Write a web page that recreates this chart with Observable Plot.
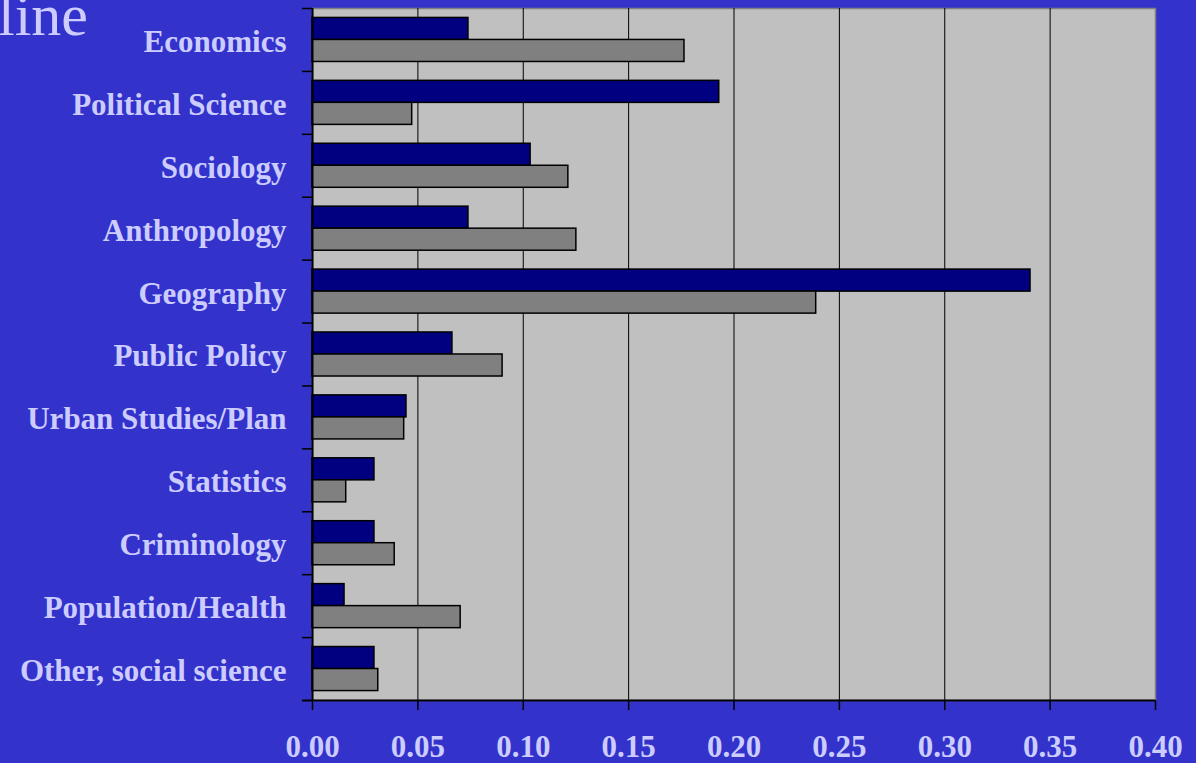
<!DOCTYPE html>
<html>
<head>
<meta charset="utf-8">
<script src="https://cdn.jsdelivr.net/npm/d3@7"></script>
<script src="https://cdn.jsdelivr.net/npm/@observablehq/plot@0.6"></script>
<style>
html, body { margin: 0; padding: 0; background: #3333CC; overflow: hidden; }
#wrap { position: relative; width: 1196px; height: 763px; }
#title { position: absolute; left: -2px; top: -15px; font: normal 60px/60px 'Liberation Serif', 'Times New Roman', serif; color: #CCCCFF; white-space: nowrap; }
#chart { position: absolute; left: 0; top: 0; }
</style>
</head>
<body>
<div id="wrap">
  <div id="title">line</div>
  <div id="chart"></div>
</div>
<script>
const categories = ["Economics", "Political Science", "Sociology", "Anthropology", "Geography", "Public Policy", "Urban Studies/Plan", "Statistics", "Criminology", "Population/Health", "Other, social science"];
const seriesNavy = [0.074, 0.193, 0.1035, 0.074, 0.3407, 0.0664, 0.0446, 0.0294, 0.0294, 0.0152, 0.0294];
const seriesGray = [0.1765, 0.0473, 0.1214, 0.1252, 0.239, 0.0902, 0.0435, 0.016, 0.039, 0.0703, 0.0312];
const xTicks = [0, 0.05, 0.10, 0.15, 0.20, 0.25, 0.30, 0.35, 0.40];

const rows = categories.map((c, i) => ({category: c, navy: seriesNavy[i], gray: seriesGray[i]}));
const lastCategory = [categories[categories.length - 1]];
const font = "'Liberation Serif', 'Times New Roman', serif";

const chart = Plot.plot({
  width: 1196,
  height: 763,
  marginLeft: 312,
  marginRight: 41,
  marginTop: 8,
  marginBottom: 63,
  style: {background: "transparent", color: "#CCCCFF", fontFamily: font, overflow: "visible"},
  x: {domain: [0, 0.4]},
  y: {domain: categories, paddingInner: 0.3, paddingOuter: 0.15, round: false},
  marks: [
    Plot.frame({fill: "#C0C0C0", stroke: "#808080", strokeWidth: 1.5}),
    Plot.ruleX(xTicks.filter(t => t > 0 && t < 0.4), {stroke: "black", strokeWidth: 1}),
    Plot.barX(rows, {y: "category", x: "navy", fill: "#000080", stroke: "black", strokeWidth: 1.5, insetBottom: 22}),
    Plot.barX(rows, {y: "category", x: "gray", fill: "#808080", stroke: "black", strokeWidth: 1.5, insetTop: 22}),
    Plot.ruleX([0], {stroke: "black", strokeWidth: 2}),
    Plot.ruleY(categories, {y: d => d, x1: -0.00475, x2: 0, dy: -31.45, stroke: "black", strokeWidth: 1.5}),
    Plot.ruleY(lastCategory, {y: d => d, x1: -0.00475, x2: 0.4, dy: 31.45, stroke: "black", strokeWidth: 2}),
    Plot.axisX({ticks: xTicks, tickSize: 10, tickFormat: () => "", stroke: "black", strokeWidth: 1.5, label: null}),
    Plot.axisX({ticks: xTicks, tickSize: 0, tickPadding: 34, tickFormat: d3.format(".2f"), fontSize: 31, fontWeight: "bold", fill: "#CCCCFF", label: null}),
    Plot.axisY({tickSize: 0, tickPadding: 26, fontSize: 31, fontWeight: "bold", fill: "#CCCCFF", label: null, dy: 2})
  ]
});
document.getElementById("chart").appendChild(chart);
</script>
</body>
</html>
